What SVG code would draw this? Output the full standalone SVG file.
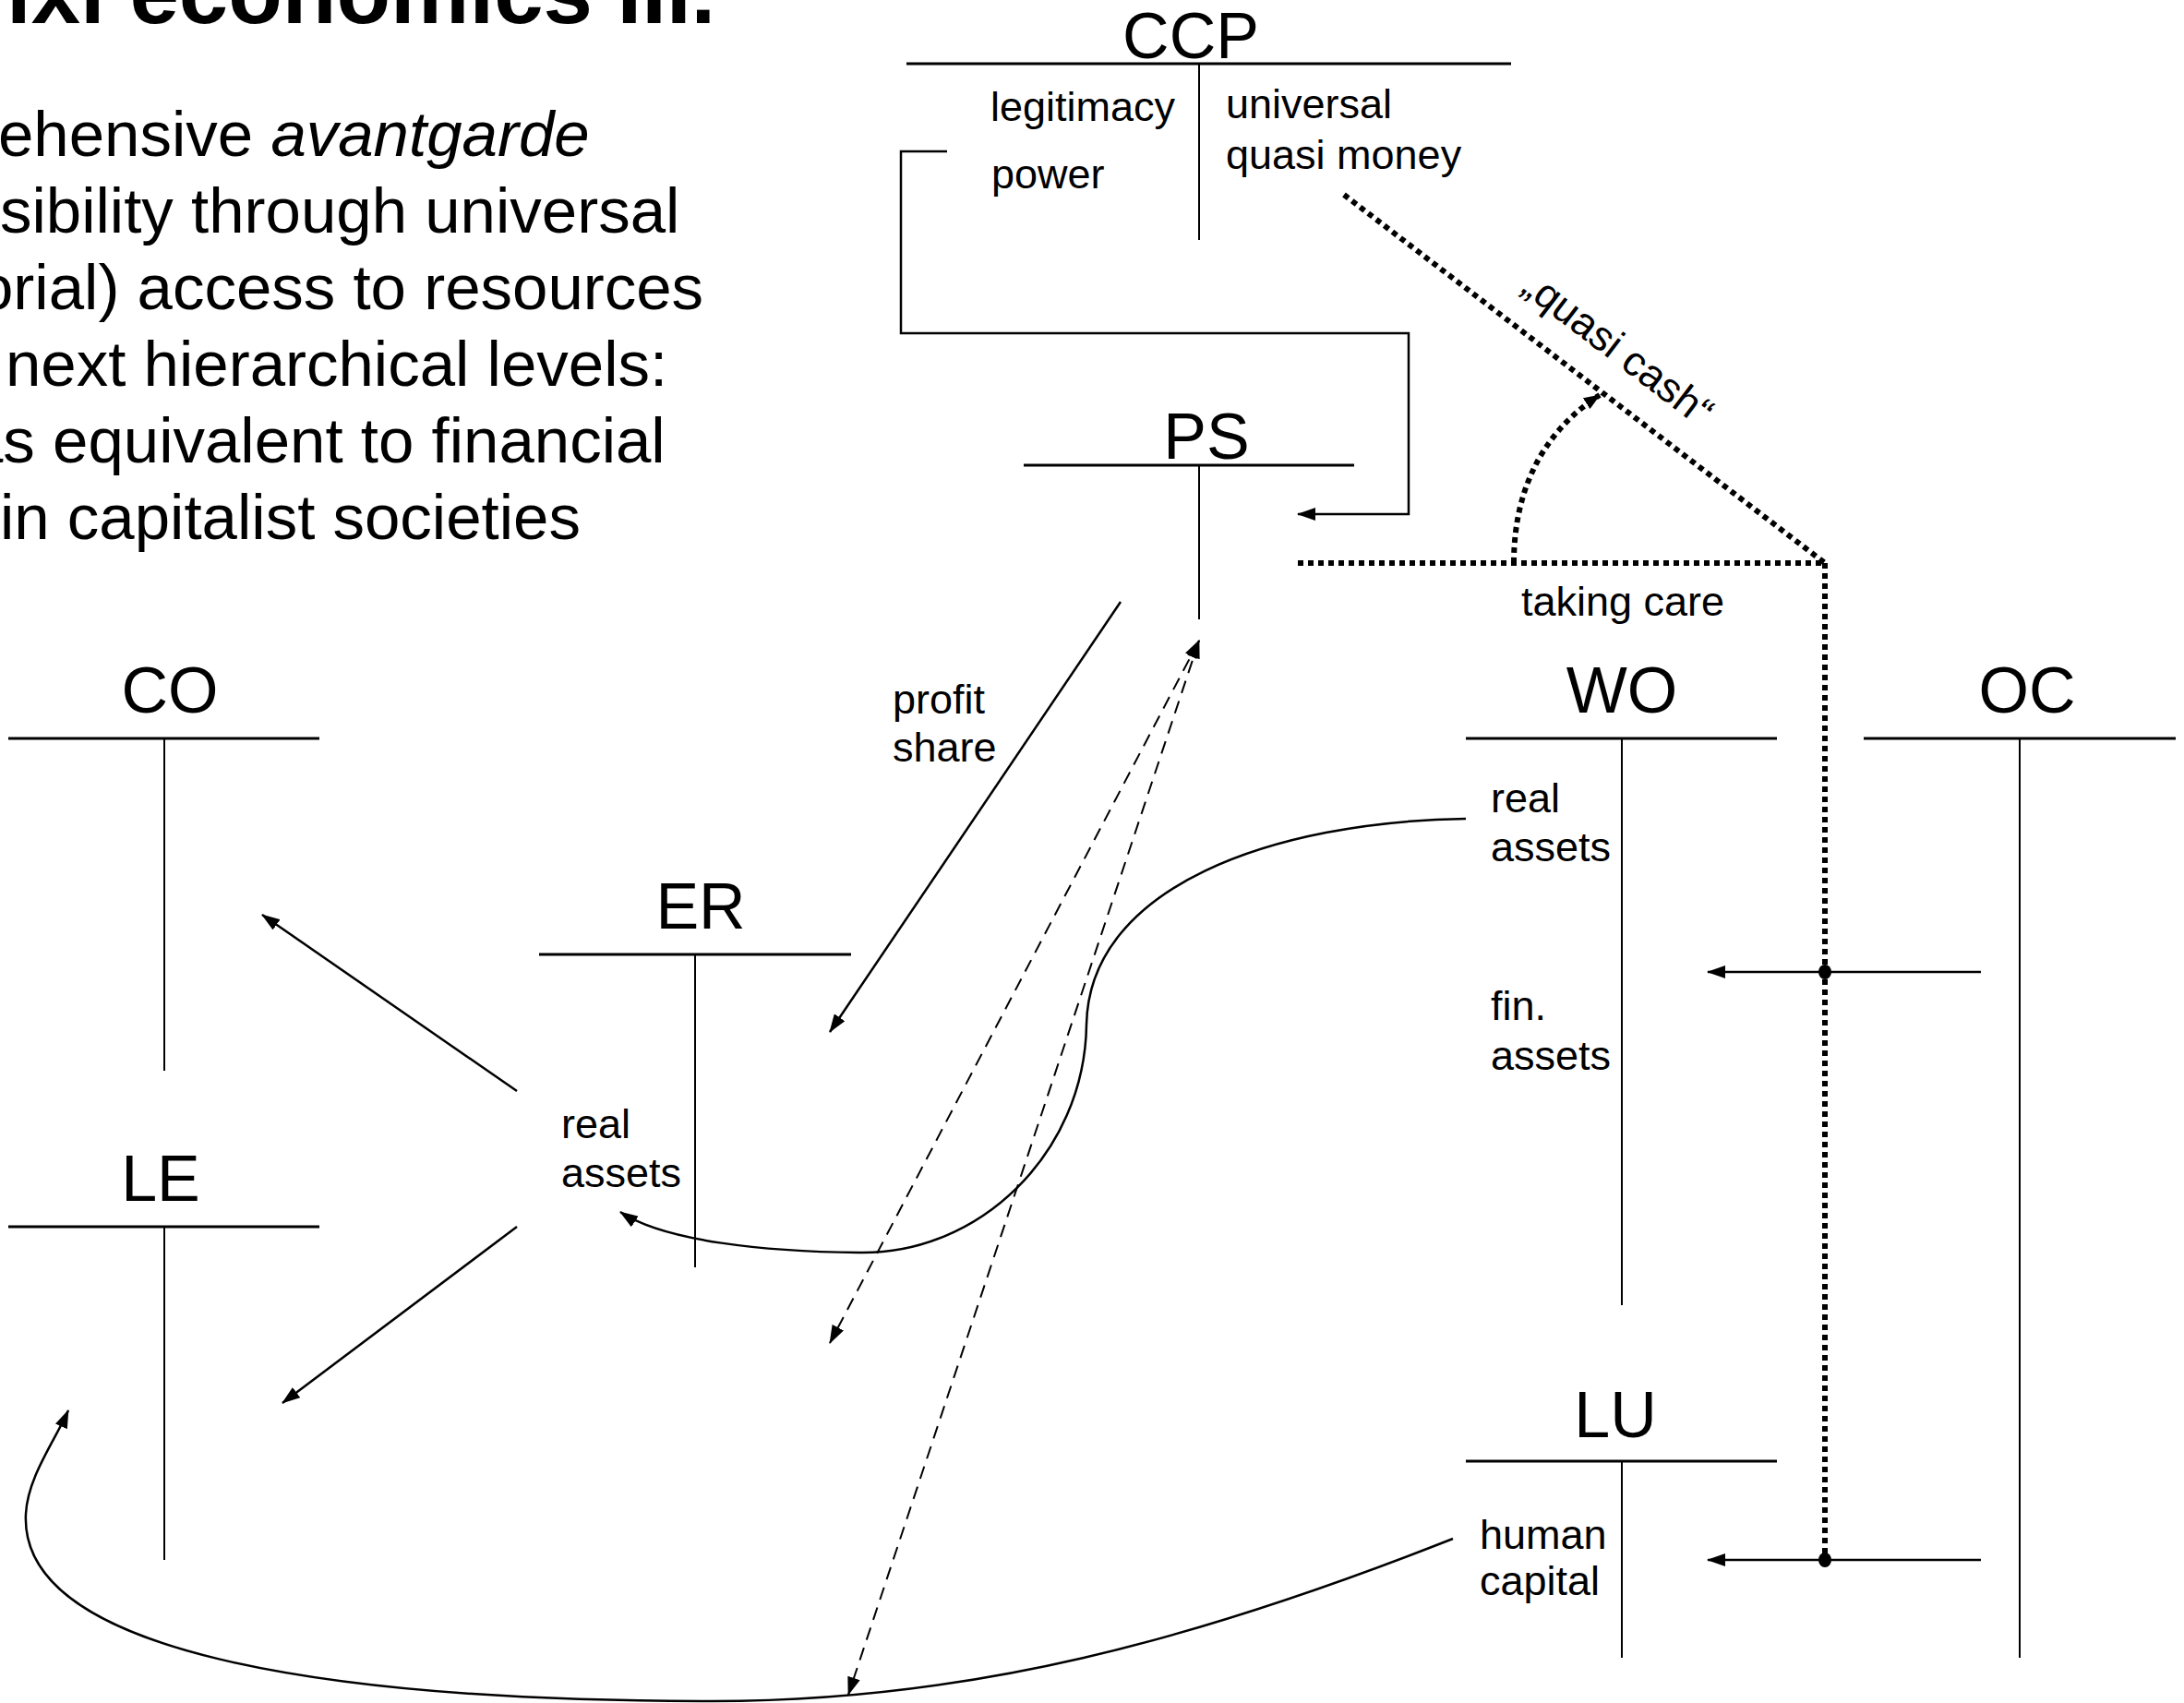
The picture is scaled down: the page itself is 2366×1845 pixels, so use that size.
<svg xmlns="http://www.w3.org/2000/svg" width="2366" height="1845" viewBox="0 0 2366 1845">
<style>
  text { font-family: "Liberation Sans", Arial, sans-serif; fill: #000; }
  .title { font-size: 96px; font-weight: bold; }
  .body { font-size: 69px; }
  .head { font-size: 70px; text-anchor: middle; }
  .lbl { font-size: 45px; }
  .bar { stroke: #000; stroke-width: 3; fill: none; }
  .stem { stroke: #000; stroke-width: 2; fill: none; }
  .flow { stroke: #000; stroke-width: 2.5; fill: none; }
  .dash { stroke: #000; stroke-width: 2; stroke-dasharray: 14 9; fill: none; }
  .dot { stroke: #000; stroke-width: 6; stroke-dasharray: 6 5; fill: none; }
</style>
<defs>
  <marker id="arr" markerUnits="userSpaceOnUse" viewBox="0 0 20 14" markerWidth="20" markerHeight="14" refX="19" refY="7" orient="auto-start-reverse">
    <path d="M0,0 L20,7 L0,14 z" fill="#000"/>
  </marker>
  <marker id="arrS" markerUnits="userSpaceOnUse" viewBox="0 0 18 14" markerWidth="18" markerHeight="14" refX="17" refY="7" orient="auto">
    <path d="M0,0 L18,7 L0,14 z" fill="#000"/>
  </marker>
</defs>

<rect width="2366" height="1845" fill="#fff"/>

<!-- slide heading and bullet text -->
<g id="slide-text">
  <text class="title" x="7" y="25">ixl economics III.</text>
  <text class="body" x="-2" y="169">ehensive <tspan font-style="italic">avantgarde</tspan></text>
  <text class="body" x="0" y="252">sibility through universal</text>
  <text class="body" x="-24" y="335">orial) access to resources</text>
  <text class="body" x="6" y="418">next hierarchical levels:</text>
  <text class="body" x="-35" y="501">as equivalent to financial</text>
  <text class="body" x="0" y="584">in capitalist societies</text>
</g>

<!-- T-accounts -->
<g id="CCP">
  <text class="head" x="1290" y="63">CCP</text>
  <line class="bar" x1="982" y1="69" x2="1637" y2="69"/>
  <line class="stem" x1="1299" y1="69" x2="1299" y2="260"/>
  <text class="lbl" x="1073" y="131">legitimacy</text>
  <text class="lbl" x="1074" y="204">power</text>
  <text class="lbl" x="1328" y="128">universal</text>
  <text class="lbl" x="1328" y="183">quasi money</text>
</g>

<g id="PS">
  <text class="head" x="1307" y="497">PS</text>
  <line class="bar" x1="1109" y1="504" x2="1467" y2="504"/>
  <line class="stem" x1="1299" y1="504" x2="1299" y2="671"/>
</g>

<g id="WO">
  <text class="head" x="1757" y="772">WO</text>
  <line class="bar" x1="1588" y1="800" x2="1925" y2="800"/>
  <line class="stem" x1="1757" y1="800" x2="1757" y2="1414"/>
  <text class="lbl" x="1615" y="880">real</text>
  <text class="lbl" x="1615" y="933">assets</text>
  <text class="lbl" x="1615" y="1105">fin.</text>
  <text class="lbl" x="1615" y="1159">assets</text>
</g>

<g id="OC">
  <text class="head" x="2196" y="772">OC</text>
  <line class="bar" x1="2019" y1="800" x2="2357" y2="800"/>
  <line class="stem" x1="2188" y1="800" x2="2188" y2="1796"/>
</g>

<g id="LU">
  <text class="head" x="1750" y="1557">LU</text>
  <line class="bar" x1="1588" y1="1583" x2="1925" y2="1583"/>
  <line class="stem" x1="1757" y1="1583" x2="1757" y2="1796"/>
  <text class="lbl" x="1603" y="1678">human</text>
  <text class="lbl" x="1603" y="1728">capital</text>
</g>

<g id="CO">
  <text class="head" x="184" y="772">CO</text>
  <line class="bar" x1="9" y1="800" x2="346" y2="800"/>
  <line class="stem" x1="178" y1="800" x2="178" y2="1160"/>
</g>

<g id="LE">
  <text class="head" x="174" y="1301">LE</text>
  <line class="bar" x1="9" y1="1329" x2="346" y2="1329"/>
  <line class="stem" x1="178" y1="1329" x2="178" y2="1690"/>
</g>

<g id="ER">
  <text class="head" x="759" y="1006">ER</text>
  <line class="bar" x1="584" y1="1034" x2="922" y2="1034"/>
  <line class="stem" x1="753" y1="1034" x2="753" y2="1373"/>
  <text class="lbl" x="608" y="1233">real</text>
  <text class="lbl" x="608" y="1286">assets</text>
</g>

<!-- flows between the accounts -->
<g id="connectors">
  <path class="flow" d="M1026,164 H976 V361 H1526 V557 H1406" marker-end="url(#arr)"/>

  <path class="dot" d="M1456,211 L1977,610"/>
  <path class="dot" d="M1406,610 H1977"/>
  <path class="dot" d="M1977,610 V1690"/>
  <path class="dot" d="M1640,610 C1640,520 1680,462 1733,428" marker-end="url(#arrS)"/>

  <path class="flow" d="M2146,1053 H1850" marker-end="url(#arr)"/>
  <path class="flow" d="M2146,1690 H1850" marker-end="url(#arr)"/>
  <ellipse cx="1977" cy="1053" rx="7" ry="8" fill="#000"/>
  <ellipse cx="1977" cy="1690" rx="7" ry="8" fill="#000"/>

  <path class="flow" d="M560,1182 L284,991" marker-end="url(#arr)"/>
  <path class="flow" d="M560,1329 L306,1520" marker-end="url(#arr)"/>
  <path class="flow" d="M1214,652 L899,1118" marker-end="url(#arr)"/>

  <path class="dash" d="M1299,694 L899,1455" marker-start="url(#arr)" marker-end="url(#arr)"/>
  <path class="dash" d="M1299,694 L919,1836" marker-start="url(#arr)" marker-end="url(#arr)"/>

  <path class="flow" d="M1588,887 C1380,890 1180,960 1177,1110 C1175,1250 1060,1360 930,1357 C830,1356 720,1345 672,1313" marker-end="url(#arr)"/>
  <path class="flow" d="M1574,1667 C1300,1775 1050,1845 760,1843 C350,1842 20,1790 28,1640 C30,1600 60,1560 74,1528" marker-end="url(#arr)"/>

  <text class="lbl" x="967" y="773">profit</text>
  <text class="lbl" x="967" y="825">share</text>
  <text class="lbl" x="1648" y="667">taking care</text>
  <text class="lbl" text-anchor="middle" transform="translate(1725,414) rotate(37.4)" x="0" y="-31">„quasi cash“</text>
</g>
</svg>
